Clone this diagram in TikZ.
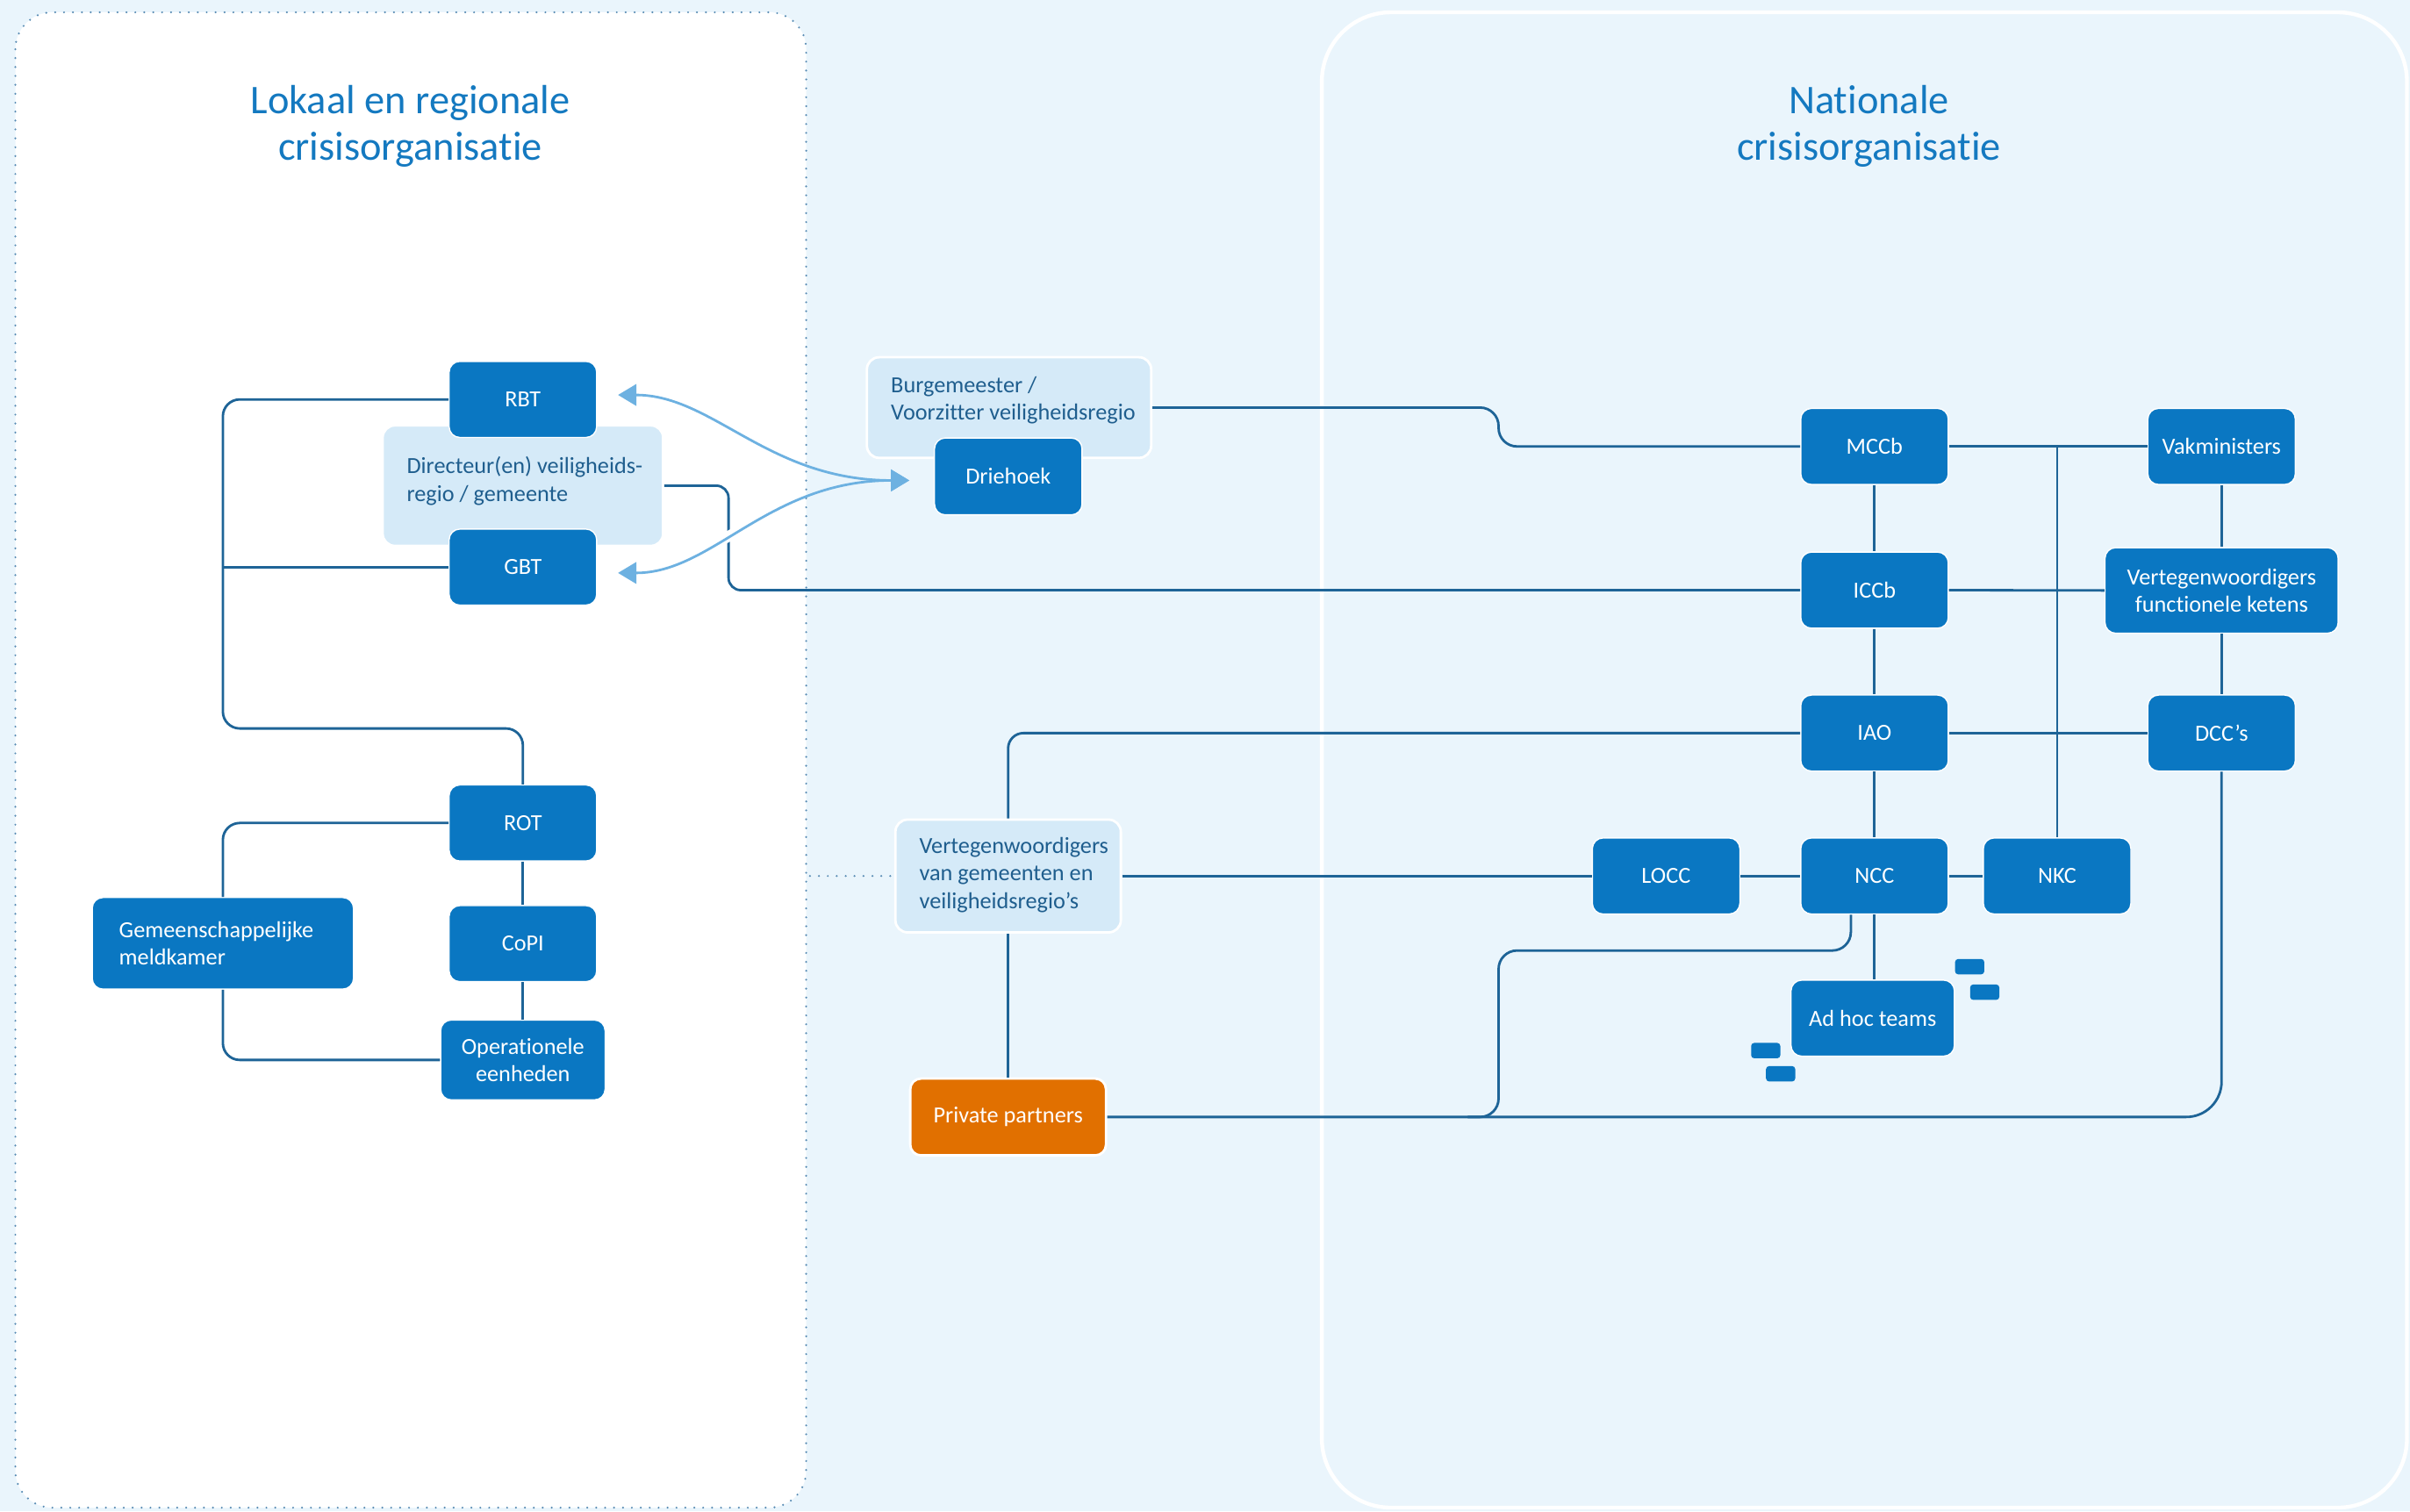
\documentclass[tikz,border=0pt]{standalone}
\usepackage{fontspec}
\setmainfont{Carlito}[Ligatures=NoCommon]
\usetikzlibrary{arrows.meta}
\definecolor{bg}{HTML}{EAF5FC}
\definecolor{nodeblue}{HTML}{0A77C2}
\definecolor{lightbox}{HTML}{D5EAF8}
\definecolor{linecol}{HTML}{1E6497}
\definecolor{arrowcol}{HTML}{6DB1E1}
\definecolor{orangebox}{HTML}{E17000}
\definecolor{titlecol}{HTML}{1479C0}
\definecolor{boxtext}{HTML}{1F5E8E}
\definecolor{dotcol}{HTML}{5A8DB5}
\newcommand\nodefont{\fontsize{15}{18}\selectfont}
\newcommand\titlefont{\fontsize{26.5}{30}\selectfont}
\tikzset{
  dk/.style={rectangle, rounded corners=7, fill=nodeblue, draw=white, line width=0.8,
    text=white, font=\nodefont, inner sep=0, align=center, minimum width=96, minimum height=49.5},
  orng/.style={dk, fill=orangebox, line width=1.6},
  lt/.style={rectangle, rounded corners=8, fill=lightbox, draw=white, line width=1.6, inner sep=0},
  btxt/.style={font=\nodefont, text=boxtext, align=left, inner sep=0, anchor=west},
  conn/.style={draw=linecol, line width=1.6},
  arr/.style={draw=arrowcol, line width=1.6, {Triangle[length=12,width=14]}-{Triangle[length=12,width=14]}},
  halo/.style={draw=white, line width=7},
  dotl/.style={draw=dotcol, line width=1.4, dash pattern=on 0pt off 5.8pt, line cap=round},
  deco/.style={rectangle, rounded corners=2, fill=nodeblue, minimum width=19, minimum height=10, inner sep=0},
  ttl/.style={font=\titlefont, text=titlecol, align=center, inner sep=0}
}
\begin{document}
\begin{tikzpicture}[x=1pt,y=-1pt]
\fill[bg] (0,0) rectangle (1568,983.3);
\useasboundingbox (0,0) rectangle (1568,983.3);
% panels
\draw[fill=white, dotl, rounded corners=24] (10,8) rectangle (524.5,981);
\draw[fill=bg, draw=white, line width=2.5, rounded corners=45] (860,8) rectangle (1566,981);
% titles
\node[ttl] (tl) at (267,82) {Lokaal en regionale\\crisisorganisatie};
\node[ttl] (tr) at (1216,82) {Nationale\\crisisorganisatie};
% light boxes
\node[lt, minimum width=182.5, minimum height=78.4] (dir) at (340.2,316) {};
\node[btxt] (dirt) at (264.5,313) {Directeur(en) veiligheids-\\regio / gemeente};
\node[lt, minimum width=185, minimum height=65.5] (burg) at (656.5,265.2) {};
\node[btxt] (burgt) at (579.5,260.5) {Burgemeester /\\Voorzitter veiligheidsregio};
\node[lt, minimum width=146.7, minimum height=73.4] (vgem) at (655.9,570) {};
\node[btxt] (vgemt) at (598,569.3) {Vertegenwoordigers\\van gemeenten en\\veiligheidsregio’s};
% left side dark nodes
\node[dk] (rbt) at (340.2,259.9) {RBT};
\node[dk] (gbt) at (340.2,369) {GBT};
\node[dk] (rot) at (340.2,535.5) {ROT};
\node[dk] (copi) at (340.2,614) {CoPI};
\node[dk, minimum width=107, minimum height=52] (ope) at (340.2,689.7) {Operationele\\eenheden};
\node[dk, minimum width=170, minimum height=59.6, text width=135, align=left] (gem) at (145,613.8) {Gemeenschappelijke\\meldkamer};
\node[dk, minimum height=50] (drie) at (656,310) {Driehoek};
\node[orng, minimum width=127.4, minimum height=50] (pp) at (655.9,726.8) {Private partners};
% national nodes
\node[dk] (mccb) at (1219.6,290.5) {MCCb};
\node[dk] (vak) at (1445.4,290.5) {Vakministers};
\node[dk] (iccb) at (1219.6,384) {ICCb};
\node[dk, minimum width=151.7, minimum height=55.7] (vfk) at (1445.4,384.2) {Vertegenwoordigers\\functionele ketens};
\node[dk] (iao) at (1219.6,477) {IAO};
\node[dk] (dcc) at (1445.4,477) {DCC’s};
\node[dk] (locc) at (1084,570) {LOCC};
\node[dk] (ncc) at (1219.6,570) {NCC};
\node[dk] (nkc) at (1338.4,570) {NKC};
\node[dk, minimum width=106.3] (adhoc) at (1218.4,662.5) {Ad hoc teams};
\node[deco] (d1) at (1281.5,629) {};
\node[deco] (d2) at (1291.3,645.6) {};
\node[deco] (d3) at (1148.8,683.6) {};
\node[deco] (d4) at (1158.5,698.7) {};
% connectors left
\draw[conn, rounded corners=11] (rbt.west) -- (145,259.9) -- (145,474) -- (340.2,474) -- (rot.north);
\draw[conn] (gbt.west) -- (145,369);
\draw[conn, rounded corners=11] (rot.west) -- (145,535.5) -- (gem.north);
\draw[conn, rounded corners=11] (gem.south) -- (145,689.7) -- (ope.west);
\draw[conn] (rot.south) -- (copi.north);
\draw[conn] (copi.south) -- (ope.north);
% long connectors
\draw[conn, rounded corners=8] (dir.east) -- (474,316) -- (474,384) -- (iccb.west);
\draw[conn, rounded corners=12] (burg.east) -- (975,265.2) -- (975,290.5) -- (mccb.west);
\coordinate (lpedge) at (527,570);
\draw[dotl] (lpedge) -- (vgem.west);
\draw[conn] (vgem.east) -- (locc.west);
\draw[conn, rounded corners=10] (vgem.north) -- (655.9,477) -- (iao.west);
\draw[conn] (vgem.south) -- (pp.north);
\draw[conn, rounded corners=23] (pp.east) -- (1445.4,726.8) -- (dcc.south);
\draw[conn, rounded corners=12] ([xshift=-15.4pt]ncc.south) -- (1204.2,618.5) -- (975,618.5) -- (975,726.8) -- (955,726.8);
% arrows (with a white halo where they cross the dark line)
\begin{scope}
\clip (440,330) rectangle (510,372);
\draw[halo] ([xshift=13.5pt,yshift=-3.8pt]gbt.east) .. controls +(62,0) and +(-92,0) .. ([xshift=-16pt,yshift=-2.6pt]drie.west);
\end{scope}
\draw[arr] ([xshift=13.5pt,yshift=2.9pt]rbt.east) .. controls +(62,0) and +(-92,0) .. ([xshift=-16pt,yshift=-2.6pt]drie.west);
\draw[arr] ([xshift=13.5pt,yshift=-3.8pt]gbt.east) .. controls +(62,0) and +(-92,0) .. ([xshift=-16pt,yshift=-2.6pt]drie.west);
% national connectors
\draw[conn] (mccb.east) -- (vak.west);
\draw[conn] (nkc.north |- mccb.east) -- (nkc.north);
\draw[conn] (mccb.south) -- (iccb.north);
\draw[conn] (iccb.south) -- (iao.north);
\draw[conn] (iao.south) -- (ncc.north);
\draw[conn] (ncc.south) -- (ncc.south |- adhoc.north);
\draw[conn] (vak.south) -- (vfk.north);
\draw[conn] (vfk.south) -- (dcc.north);
\draw[conn] (iccb.east) -- (vfk.west);
\draw[conn] (iao.east) -- (dcc.west);
\draw[conn] (locc.east) -- (ncc.west);
\draw[conn] (ncc.east) -- (nkc.west);
\end{tikzpicture}
\end{document}
